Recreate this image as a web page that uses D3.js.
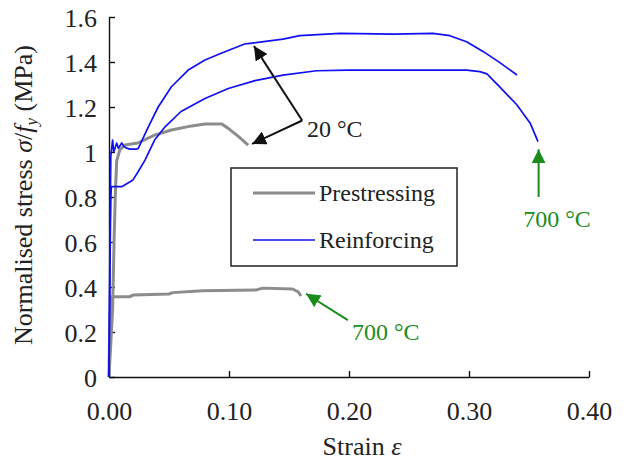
<!DOCTYPE html>
<html>
<head>
<meta charset="utf-8">
<script src="https://cdn.jsdelivr.net/npm/d3@7/dist/d3.min.js"></script>
<style>
  html, body { margin: 0; padding: 0; background: #fff; }
  svg { display: block; font-family: "Liberation Serif", "Times New Roman", serif; }
</style>
</head>
<body>
<svg id="chart" width="632" height="466"></svg>
<script>
// Stress-strain curves: [strain, normalised stress]
const reinforcing20 = [
  [0, 0], [0.0008, 0.6], [0.0015, 0.98], [0.003, 1.053], [0.004, 1.0], [0.0064, 1.04],
  [0.0078, 1.017], [0.0106, 1.04], [0.0125, 1.024], [0.0147, 1.017], [0.0175, 1.013],
  [0.023, 1.013], [0.0244, 1.016], [0.0328, 1.112], [0.041, 1.2], [0.052, 1.29],
  [0.066, 1.364], [0.08, 1.409], [0.094, 1.44], [0.113, 1.48], [0.1175, 1.483],
  [0.145, 1.502], [0.159, 1.517], [0.1925, 1.527], [0.237, 1.524], [0.27, 1.527],
  [0.284, 1.517], [0.298, 1.49], [0.312, 1.446], [0.326, 1.396], [0.34, 1.342]
];
const reinforcing700 = [
  [0, 0], [0.0008, 0.5], [0.0015, 0.8], [0.002, 0.846], [0.0106, 0.846], [0.02, 0.876],
  [0.024, 0.91], [0.03, 0.964], [0.038, 1.053], [0.0467, 1.112], [0.06, 1.18],
  [0.08, 1.238], [0.0994, 1.282], [0.1217, 1.317], [0.145, 1.342], [0.173, 1.361],
  [0.2, 1.364], [0.256, 1.364], [0.298, 1.364], [0.309, 1.357], [0.315, 1.347],
  [0.328, 1.276], [0.34, 1.209], [0.351, 1.128], [0.3575, 1.046]
];
const prestressing20 = [
  [0, 0], [0.003, 0.3], [0.0042, 0.6], [0.0052, 0.8], [0.0064, 0.96], [0.009, 1.01],
  [0.0133, 1.031], [0.024, 1.04], [0.038, 1.075], [0.052, 1.098], [0.069, 1.116],
  [0.08, 1.124], [0.094, 1.124], [0.0994, 1.105], [0.108, 1.068], [0.116, 1.031]
];
const prestressing700 = [
  [0, 0], [0.0005, 0.2], [0.0015, 0.357], [0.0175, 0.357], [0.02, 0.364], [0.05, 0.369],
  [0.053, 0.375], [0.078, 0.383], [0.123, 0.387], [0.128, 0.395], [0.153, 0.391],
  [0.1575, 0.379], [0.16, 0.36]
];

const xTicks = [0, 0.1, 0.2, 0.3, 0.4];
const yTicks = [0, 0.2, 0.4, 0.6, 0.8, 1.0, 1.2, 1.4, 1.6];
const legendLabels = ["Prestressing", "Reinforcing"];

const svg = d3.select("#chart");
const x = d3.scaleLinear().domain([0, 0.4]).range([109, 589]);
const y = d3.scaleLinear().domain([0, 1.6]).range([377, 17]);

const BLUE = "#1010f0", GREY = "#8c8c8c", GREEN = "#1b8c1b";

// Axes with inward ticks
const xAxis = svg.append("g").attr("transform", `translate(0,${y(0)})`)
  .call(d3.axisBottom(x).tickValues(xTicks).tickSize(-6).tickSizeOuter(0).tickFormat(d3.format(".2f")));
const yAxis = svg.append("g").attr("transform", `translate(${x(0)},0)`)
  .call(d3.axisLeft(y).tickValues(yTicks).tickSize(-6).tickSizeOuter(0)
    .tickFormat(d => d === 0 ? "0" : d === 1 ? "1" : d3.format(".1f")(d)));

[xAxis, yAxis].forEach(g => {
  g.select(".domain").attr("stroke", "#111").attr("stroke-width", 1.4);
  g.selectAll(".tick line").attr("stroke", "#111").attr("stroke-width", 1.4);
  g.selectAll(".tick text").attr("fill", "#222").style("font-size", "26px")
    .style("font-family", "Liberation Serif, serif");
});
xAxis.selectAll(".tick text").attr("y", 0).attr("dy", 0).attr("transform", "translate(0,43)");
yAxis.selectAll(".tick text").attr("x", -12).attr("dy", "0.35em");

// Curves
const line = d3.line().x(d => x(d[0])).y(d => y(d[1]));
const curves = [
  { data: prestressing700, color: GREY, width: 3 },
  { data: prestressing20, color: GREY, width: 3 },
  { data: reinforcing700, color: BLUE, width: 1.7 },
  { data: reinforcing20, color: BLUE, width: 1.7 }
];
svg.append("g").selectAll("path").data(curves).join("path")
  .attr("d", d => line(d.data))
  .attr("fill", "none")
  .attr("stroke", d => d.color)
  .attr("stroke-width", d => d.width)
  .attr("stroke-linejoin", "round");

// Axis titles
const yTitle = svg.append("text")
  .attr("transform", "translate(32,195) rotate(-90)")
  .attr("text-anchor", "middle")
  .style("font-size", "26px").attr("fill", "#222");
yTitle.append("tspan").text("Normalised stress ");
yTitle.append("tspan").style("font-style", "italic").text("σ");
yTitle.append("tspan").text("/");
yTitle.append("tspan").style("font-style", "italic").text("f");
yTitle.append("tspan").style("font-style", "italic").style("font-size", "17px").attr("dy", 5).text("y");
yTitle.append("tspan").attr("dy", -5).text(" (MPa)");

const xTitle = svg.append("text")
  .attr("x", 362).attr("y", 455).attr("text-anchor", "middle")
  .style("font-size", "26px").attr("fill", "#222");
xTitle.append("tspan").text("Strain ");
xTitle.append("tspan").style("font-style", "italic").text("ε");

// Legend
const legend = svg.append("g");
legend.append("rect").attr("x", 231).attr("y", 168).attr("width", 226).attr("height", 98)
  .attr("fill", "#fff").attr("stroke", "#222").attr("stroke-width", 1.5);
const legendItems = [
  { label: legendLabels[0], color: GREY, width: 3, ly: 193 },
  { label: legendLabels[1], color: BLUE, width: 1.7, ly: 240 }
];
legendItems.forEach(it => {
  legend.append("line").attr("x1", 253).attr("x2", 315).attr("y1", it.ly).attr("y2", it.ly)
    .attr("stroke", it.color).attr("stroke-width", it.width);
  legend.append("text").attr("x", 319).attr("y", it.ly + 8)
    .style("font-size", "24px").attr("fill", "#222").text(it.label);
});

// Annotation arrows
const defs = svg.append("defs");
function marker(id, color) {
  defs.append("marker").attr("id", id).attr("viewBox", "0 0 10 10")
    .attr("refX", 10).attr("refY", 5).attr("markerWidth", 7).attr("markerHeight", 7)
    .attr("markerUnits", "strokeWidth").attr("orient", "auto")
    .append("path").attr("d", "M0,0 L10,5 L0,10 Z").attr("fill", color);
}
marker("headBlack", "#111");
marker("headGreen", GREEN);

function arrow(from, to, color, id) {
  svg.append("line")
    .attr("x1", x(from[0])).attr("y1", y(from[1]))
    .attr("x2", x(to[0])).attr("y2", y(to[1]))
    .attr("stroke", color).attr("stroke-width", 2)
    .attr("marker-end", `url(#${id})`);
}
// 20 °C: pointing to the reinforcing and prestressing curves
const label20 = [0.161, 1.14];
arrow(label20, [0.1208, 1.471], "#111", "headBlack");
arrow(label20, [0.1192, 1.036], "#111", "headBlack");
svg.append("text").attr("x", x(0.165)).attr("y", y(1.065))
  .style("font-size", "24px").attr("fill", "#222").text("20 °C");

// 700 °C: reinforcing end and prestressing end
arrow([0.358, 0.80], [0.358, 1.012], GREEN, "headGreen");
svg.append("text").attr("x", x(0.3733)).attr("y", y(0.667)).attr("text-anchor", "middle")
  .style("font-size", "24px").attr("fill", GREEN).text("700 °C");
arrow([0.199, 0.253], [0.1642, 0.37], GREEN, "headGreen");
svg.append("text").attr("x", x(0.2025)).attr("y", y(0.165))
  .style("font-size", "24px").attr("fill", GREEN).text("700 °C");
</script>
</body>
</html>
